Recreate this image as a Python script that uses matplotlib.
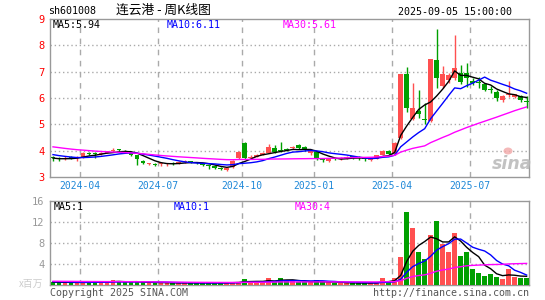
import numpy as np
import pandas as pd
import matplotlib
matplotlib.use("Agg")
import matplotlib.pyplot as plt
from matplotlib.patches import Ellipse

# ---------------- data ----------------
code = "sh601008"
title = "连云港 - 周K线图"
stamp = "2025-09-05 15:00:00"
price_ma_labels = ["MA5:5.94", "MA10:6.11", "MA30:5.61"]
vol_ma_labels = ["MA5:1", "MA10:1", "MA30:4"]

# week-ending trading dates (holiday week of 2024-10-04 ended on 2024-09-30)
weeks = pd.date_range("2024-03-01", periods=80, freq="W-FRI")
weeks = weeks.where(weeks != pd.Timestamp("2024-10-04"), pd.Timestamp("2024-09-30"))

opens = [3.74, 3.70, 3.70, 3.74, 3.72, 3.76, 3.90, 3.90, 3.88, 3.93,
         3.97, 4.03, 3.98, 3.95, 3.82, 3.62, 3.50, 3.49, 3.48, 3.48,
         3.53, 3.52, 3.57, 3.60, 3.56, 3.52, 3.42, 3.43, 3.35, 3.28,
         3.38, 3.73, 4.28, 3.72, 3.77, 3.85, 3.92, 4.09, 4.00, 4.06,
         4.10, 4.21, 4.13, 3.93, 3.96, 3.66, 3.62, 3.70, 3.70, 3.73,
         3.75, 3.74, 3.70, 3.66, 3.70, 3.84, 3.98, 3.86, 4.47, 6.90,
         5.20, 5.50, 5.18, 5.14, 7.44, 6.46, 6.68, 6.75, 6.96, 6.94,
         6.65, 6.58, 6.52, 6.32, 6.24, 5.92, 6.10, 6.05, 6.08, 5.86]
closes = [3.71, 3.67, 3.72, 3.72, 3.75, 3.92, 3.88, 3.86, 3.92, 3.95,
          4.02, 4.01, 3.96, 3.85, 3.70, 3.55, 3.51, 3.47, 3.50, 3.52,
          3.51, 3.56, 3.58, 3.57, 3.53, 3.44, 3.40, 3.35, 3.29, 3.35,
          3.62, 3.95, 3.74, 3.76, 3.85, 3.92, 4.15, 3.96, 3.97, 4.03,
          4.13, 4.10, 4.01, 3.95, 3.68, 3.63, 3.70, 3.67, 3.72, 3.75,
          3.74, 3.72, 3.68, 3.68, 3.83, 3.99, 3.87, 4.30, 6.91, 5.61,
          5.61, 5.40, 5.15, 7.48, 6.75, 6.90, 6.87, 7.15, 6.62, 6.75,
          6.56, 6.56, 6.30, 6.30, 5.99, 6.09, 6.11, 6.14, 5.92, 5.84]
highs = [3.80, 3.75, 3.80, 3.78, 3.78, 3.95, 3.95, 3.96, 3.96, 3.98,
         4.12, 4.08, 4.04, 3.97, 3.85, 3.66, 3.55, 3.52, 3.54, 3.55,
         3.58, 3.60, 3.63, 3.62, 3.58, 3.54, 3.47, 3.45, 3.37, 3.37,
         3.65, 3.98, 4.33, 3.82, 3.87, 3.95, 4.25, 4.22, 4.33, 4.12,
         4.18, 4.25, 4.16, 4.00, 3.98, 3.70, 3.72, 3.74, 3.76, 3.80,
         3.78, 3.78, 3.72, 3.72, 3.85, 4.02, 4.02, 4.32, 6.92, 7.19,
         6.56, 6.30, 5.80, 7.48, 8.62, 7.23, 6.95, 8.39, 7.25, 7.32,
         6.75, 6.80, 6.56, 6.44, 6.30, 6.12, 6.65, 6.16, 6.12, 6.06]
lows = [3.62, 3.60, 3.63, 3.68, 3.62, 3.74, 3.82, 3.72, 3.85, 3.90,
        3.94, 3.95, 3.90, 3.80, 3.45, 3.50, 3.46, 3.43, 3.42, 3.40,
        3.45, 3.50, 3.52, 3.52, 3.50, 3.42, 3.32, 3.30, 3.25, 3.21,
        3.35, 3.70, 3.70, 3.70, 3.75, 3.83, 3.90, 3.93, 3.95, 3.99,
        4.05, 4.05, 3.98, 3.85, 3.66, 3.58, 3.56, 3.63, 3.66, 3.68,
        3.70, 3.65, 3.62, 3.62, 3.68, 3.82, 3.84, 3.84, 4.45, 5.46,
        5.16, 5.25, 5.02, 5.10, 6.37, 6.37, 6.56, 6.70, 6.55, 6.43,
        6.50, 6.37, 6.25, 6.18, 5.88, 5.85, 6.05, 6.00, 5.86, 5.62]
volumes = [0.50, 0.50, 0.50, 0.50, 0.45, 0.50, 0.50, 0.75, 0.50, 0.50,
           0.95, 0.70, 0.50, 0.50, 0.55, 0.50, 0.50, 0.40, 0.40, 0.40,
           0.40, 0.40, 0.40, 0.40, 0.40, 0.40, 0.40, 0.40, 0.40, 0.40,
           0.60, 0.60, 1.15, 0.55, 0.55, 0.60, 1.30, 0.80, 1.30, 0.80,
           0.70, 0.60, 0.55, 0.55, 0.90, 0.50, 0.50, 0.40, 0.40, 0.40,
           0.35, 0.35, 0.35, 0.40, 0.50, 1.30, 0.70, 1.30, 5.30, 13.90,
           10.90, 6.30, 5.00, 9.60, 12.20, 7.90, 6.30, 9.90, 5.50, 6.30,
           3.00, 2.30, 1.80, 2.10, 1.50, 1.20, 3.00, 1.50, 1.30, 1.30]
# weekly closes / volumes before the first shown week
prior_closes = [4.55, 4.60, 4.50, 4.45, 4.40, 4.45, 4.40, 4.35, 4.30, 4.35,
                4.30, 4.25, 4.20, 4.20, 4.15, 4.10, 4.15, 4.10, 4.05, 4.00,
                4.05, 4.00, 3.98, 3.95, 3.92, 3.80, 3.72, 3.70, 3.67]
prior_volumes = [0.80, 0.75, 0.70, 0.90, 0.80, 0.70, 0.75, 0.85, 0.70, 0.80,
                 0.70, 0.75, 0.80, 0.70, 0.75, 0.80, 0.70, 0.90, 0.75, 0.80,
                 0.70, 0.75, 0.80, 0.70, 0.60, 0.55, 0.60, 0.55, 0.50]

ma_windows = [5, 10, 30]
ma_colors = ["#000000", "#0000ff", "#ff00ff"]

# ---------------- figure ----------------
W, H = 545, 300
fig = plt.figure(figsize=(W / 100, H / 100), dpi=100)
fig.patch.set_facecolor("white")
MONO = "DejaVu Sans Mono"


def px_axes(l, t, r, b):
    return fig.add_axes([l / W, 1 - b / H, (r - l) / W, (b - t) / H])


def ftext(x, y, s, **kw):
    fig.text(x / W, 1 - y / H, s, va="center", **kw)


ax = px_axes(50, 19, 529, 177)
axv = px_axes(50, 201, 529, 285)

n = len(closes)
x = np.arange(n)
o = np.array(opens); c = np.array(closes)
hi = np.array(highs); lo = np.array(lows)
v = np.array(volumes)
up = c >= o
RED, GREEN = "#ff5050", "#00a000"
cols = np.where(up, RED, GREEN)

# candles
ax.vlines(x, lo, hi, colors=cols, linewidth=1, zorder=3)
body = np.maximum(np.abs(c - o), 0.04)
ax.bar(x, body, bottom=np.minimum(o, c), width=0.8, color=cols, linewidth=0, zorder=4)

# price MAs
all_c = pd.Series(list(prior_closes) + list(closes))
for w, col in zip(ma_windows, ma_colors):
    ma = all_c.rolling(w).mean().values[-n:]
    ax.plot(x, ma, color=col, linewidth=1, zorder=5)

# volume
axv.bar(x, v, width=0.8, color=cols, linewidth=0, zorder=3)
all_v = pd.Series(list(prior_volumes) + list(volumes))
for w, col in zip(ma_windows, ma_colors):
    ma = all_v.rolling(w).mean().values[-n:]
    axv.plot(x, ma, color=col, linewidth=1, zorder=5)

# ticks at first week of each quarter month
months = weeks.month
tick_pos, tick_lab = [], []
for i in range(1, n):
    if months[i] != months[i - 1] and months[i] in (1, 4, 7, 10):
        tick_pos.append(i - 0.5)
        tick_lab.append(weeks[i].strftime("%Y-%m"))

GRID = "#aaaaaa"
for a in (ax, axv):
    a.set_xlim(-0.5, n - 0.6)
    for s in a.spines.values():
        s.set_color("#999999")
        s.set_linewidth(1)
    for tp in tick_pos:
        a.axvline(tp, color=GRID, linestyle=(0, (4, 4)), linewidth=1, zorder=1)
    a.tick_params(length=0)
    a.set_facecolor("white")

ax.set_ylim(3, 9)
ax.set_yticks(range(3, 10))
ax.set_yticklabels([str(t) for t in range(3, 10)], color="#ff0000", fontsize=7.5, family=MONO)
ax.tick_params(axis="y", pad=4)
for yv in range(4, 9):
    ax.axhline(yv, color=GRID, linestyle=(0, (1, 2)), linewidth=1, zorder=1)
ax.set_xticks(tick_pos)
ax.set_xticklabels(tick_lab, color="#1e88d8", fontsize=7, family=MONO)
ax.tick_params(axis="x", pad=3)

axv.set_ylim(0, 16)
axv.set_yticks([4, 8, 12, 16])
axv.set_yticklabels(["4", "8", "12", "16"], color="#999999", fontsize=7.5, family=MONO)
axv.tick_params(axis="y", pad=4)
for yv in (4, 8, 12):
    axv.axhline(yv, color=GRID, linestyle=(0, (1, 2)), linewidth=1, zorder=1)
axv.set_xticks([])

# texts
ftext(48, 11, code, fontsize=7.2, family=MONO, color="#000000")
ftext(116, 10, title, fontsize=9.2, family=["Noto Sans CJK SC", "DejaVu Sans"], color="#000000")
ftext(398, 12, stamp, fontsize=7.2, family=MONO, color="#000000")

for xx, s, col in zip([53, 167, 283], price_ma_labels, ma_colors):
    ftext(xx, 24.5, s, fontsize=7.2, family=MONO, color=col)
for xx, s, col in zip([54, 174, 295], vol_ma_labels, ma_colors):
    ftext(xx, 207, s, fontsize=7.2, family=MONO, color=col)

ftext(19, 284, "x百万", fontsize=7, family=["Noto Sans CJK SC", "DejaVu Sans"], color="#cccccc")
ftext(50, 293, "Copyright 2025 SINA.COM", fontsize=7.2, family=MONO, color="#555555")
fig.text(529 / W, 1 - 293 / H, "http://finance.sina.com.cn", va="center", ha="right",
         fontsize=7.2, family=MONO, color="#555555")

# sina watermark
fig.text(512 / W, 1 - 164 / H, "sina", ha="center", va="center", fontsize=12.5,
         fontweight="bold", style="italic", color="#b8b8b8", alpha=0.85)
fig.add_artist(Ellipse((508 / W, 1 - 151 / H), 9 / W, 7 / H, transform=fig.transFigure,
                       facecolor="#f2a8a8", edgecolor="none", alpha=0.8))

fig.savefig("out.png", dpi=100)
